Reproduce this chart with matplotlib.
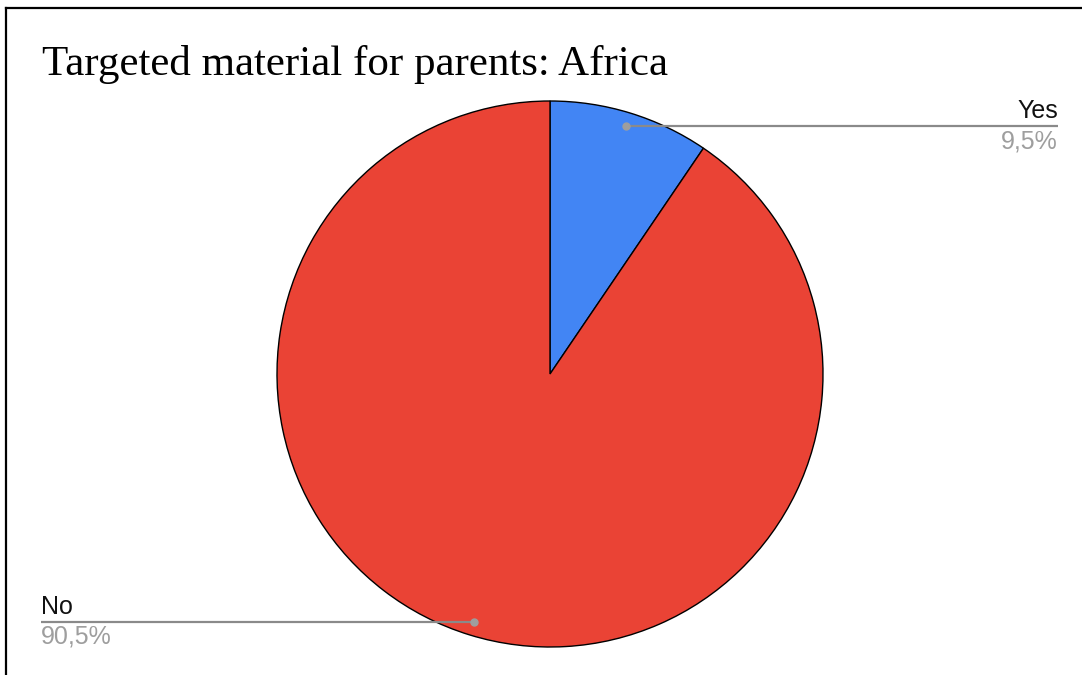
import numpy as np
import matplotlib
matplotlib.use("Agg")
import matplotlib.pyplot as plt
from matplotlib.lines import Line2D

title = "Targeted material for parents: Africa"
labels = ["Yes", "No"]
values = [9.5, 90.5]
pct_labels = ["9,5%", "90,5%"]
colors = ["#4285F4", "#EA4335"]

W, H = 1082, 675
fig = plt.figure(figsize=(W / 100, H / 100), dpi=100)
ax = fig.add_axes([0, 0, 1, 1])
ax.set_xlim(0, W)
ax.set_ylim(0, H)
ax.set_aspect("equal")
ax.axis("off")

cx, cy, r = 550, H - 374, 273
wedges, _ = ax.pie(values, colors=colors, startangle=90, counterclock=False,
                   center=(cx, cy), radius=r,
                   wedgeprops=dict(edgecolor="black", linewidth=1.0))
ax.set_xlim(0, W)
ax.set_ylim(0, H)

# leader lines & labels
label_x = {"Yes": 1058, "No": 41}
for w, lab, pct in zip(wedges, labels, pct_labels):
    mid = np.deg2rad((w.theta1 + w.theta2) / 2)
    px = cx + 0.95 * r * np.cos(mid)
    py = cy + 0.95 * r * np.sin(mid)
    lx = label_x[lab]
    ax.plot([px, lx], [py, py], color="#8a8a8a", lw=1.6, solid_capstyle="butt", zorder=5)
    ax.plot([px], [py], "o", color="#9e9e9e", ms=5, zorder=6)
    ha = "right" if lx > cx else "left"
    ax.text(lx, py + 8, lab, ha=ha, va="baseline", fontsize=18,
            family="Liberation Sans", color="#111111")
    ax.text(lx, py - 3, pct, ha=ha, va="top", fontsize=18,
            family="Liberation Sans", color="#9e9e9e")

ax.text(42, H - 75, title, ha="left", va="baseline", fontsize=31,
        family="Liberation Serif", color="black")

# frame border (top and left)
fig.add_artist(Line2D([6 / W, 1], [1 - 8 / H, 1 - 8 / H], color="black", lw=1.6,
                      transform=fig.transFigure))
fig.add_artist(Line2D([6 / W, 6 / W], [0, 1 - 8 / H], color="black", lw=1.6,
                      transform=fig.transFigure))

fig.savefig("out.png", dpi=100, facecolor="white")
